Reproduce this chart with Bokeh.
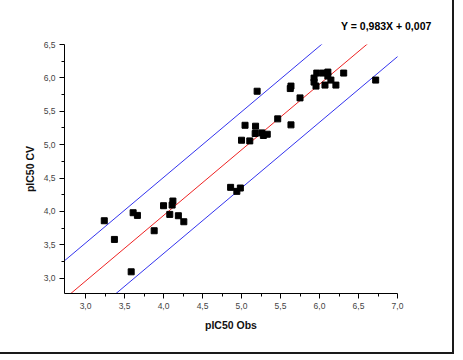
from bokeh.embed import file_html
from bokeh.models import ColumnDataSource, CustomJSTickFormatter, FixedTicker, Range1d
from bokeh.plotting import figure
from bokeh.resources import INLINE

# Observed vs cross-validated pIC50 values
pic50_obs = [
    3.24, 3.37, 3.585, 3.61, 3.665, 3.88, 4.0, 4.08, 4.12, 4.11, 4.19, 4.26,
    4.86, 4.94, 4.985,
    5.0, 5.045, 5.106, 5.18, 5.175, 5.26, 5.33, 5.28, 5.2, 5.464, 5.634,
    5.625, 5.634, 5.75,
    5.965, 6.045, 6.107, 6.107, 5.93, 5.93, 5.955, 6.07, 6.146, 6.21, 6.31, 6.72,
]
pic50_cv = [
    3.86, 3.58, 3.095, 3.98, 3.94, 3.71, 4.085, 3.955, 4.155, 4.095, 3.935, 3.845,
    4.36, 4.30, 4.35,
    5.066, 5.29, 5.056, 5.276, 5.167, 5.176, 5.156, 5.137, 5.80, 5.386, 5.296,
    5.84, 5.877, 5.70,
    6.072, 6.072, 6.087, 6.027, 5.997, 5.937, 5.877, 5.892, 5.967, 5.892, 6.072, 5.967,
]

# Regression line and its confidence band half-width
slope = 0.983
intercept = 0.007
band = 0.57

x_major = [3.0, 3.5, 4.0, 4.5, 5.0, 5.5, 6.0, 6.5, 7.0]
x_minor = [3.25, 3.75, 4.25, 4.75, 5.25, 5.75, 6.25, 6.75]
y_major = [3.0, 3.5, 4.0, 4.5, 5.0, 5.5, 6.0, 6.5]
y_minor = [3.25, 3.75, 4.25, 4.75, 5.25, 5.75, 6.25]

x_lo, x_hi = 2.73, 7.0
y_lo, y_hi = 2.77, 6.5

p = figure(
    width=454, height=354,
    x_range=Range1d(x_lo, x_hi), y_range=Range1d(y_lo, y_hi),
    output_backend="svg", toolbar_location=None,
    min_border_left=64, min_border_right=57, min_border_top=44, min_border_bottom=61,
    title="Y = 0,983X + 0,007",
)
p.styles = {"border-right": "2px solid #1a1a1a", "border-bottom": "2px solid #1a1a1a"}
p.grid.visible = False
p.outline_line_color = None
p.background_fill_color = "white"
p.border_fill_color = "white"

# Regression equation shown as a right-aligned title above the plot
p.title.align = "right"
p.title.offset = -34
p.title.text_font = "Liberation Sans"
p.title.text_font_size = "10.5px"
p.title.text_font_style = "bold"
p.title.text_color = "black"
p.title.vertical_align = "middle"
p.title.standoff = 24

fmt = CustomJSTickFormatter(code="return tick.toFixed(1).replace('.', ',');")
for ax, major, minor in ((p.xaxis[0], x_major, x_minor), (p.yaxis[0], y_major, y_minor)):
    ax.ticker = FixedTicker(ticks=major, minor_ticks=minor)
    ax.formatter = fmt
    ax.axis_line_color = "black"
    ax.axis_line_width = 1
    ax.major_tick_line_color = "black"
    ax.minor_tick_line_color = "black"
    ax.major_tick_out = 5
    ax.major_tick_in = 0
    ax.minor_tick_out = 3
    ax.minor_tick_in = 0
    ax.major_label_text_font = "Liberation Sans"
    ax.major_label_text_font_size = "8.5px"
    ax.major_label_text_color = "#444444"
    ax.major_label_standoff = 4
    ax.axis_label_text_font = "Liberation Sans"
    ax.axis_label_text_font_size = "10.5px"
    ax.axis_label_text_font_style = "bold"
    ax.axis_label_text_color = "#111111"

p.xaxis[0].axis_label = "pIC50 Obs"
p.xaxis[0].axis_label_standoff = 7
p.yaxis[0].axis_label = "pIC50 CV"
p.yaxis[0].axis_label_standoff = 5

xs = [2.5, 7.5]
p.line(xs, [slope * x + intercept for x in xs], line_color="#ee2222", line_width=1)
p.line(xs, [slope * x + intercept + band for x in xs], line_color="#3333ee", line_width=1)
p.line(xs, [slope * x + intercept - band for x in xs], line_color="#3333ee", line_width=1)

src = ColumnDataSource(data=dict(obs=pic50_obs, cv=pic50_cv))
p.scatter("obs", "cv", source=src, marker="square", size=6, fill_color="black", line_color="black")

open("out.html", "w").write(file_html(p, INLINE))
